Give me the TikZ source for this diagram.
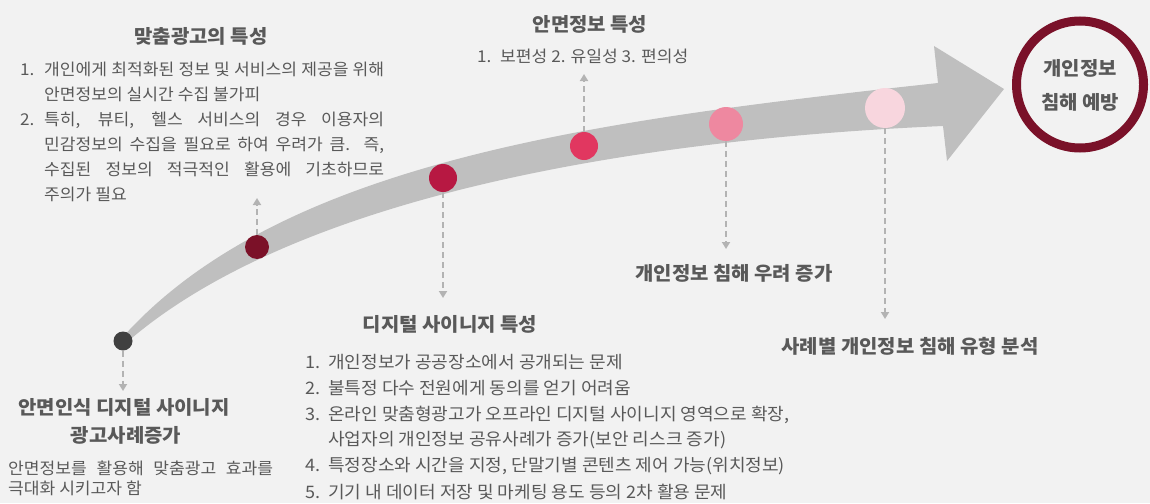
\documentclass[tikz,border=0pt]{standalone}
\usepackage{fontspec}
\setmainfont{Noto Sans CJK KR}[FakeStretch=1.05]
\usetikzlibrary{arrows.meta}
\definecolor{bg}{HTML}{F2F2F2}
\definecolor{band}{HTML}{BFBFBF}
\definecolor{txtc}{HTML}{595959}
\definecolor{dashc}{HTML}{B3B3B3}
\definecolor{c0}{HTML}{404040}
\definecolor{c1}{HTML}{7B1128}
\definecolor{c2}{HTML}{B71842}
\definecolor{c3}{HTML}{E13760}
\definecolor{c4}{HTML}{EE88A0}
\definecolor{c5}{HTML}{F8D6DE}
\definecolor{ring}{HTML}{7A1129}
\tikzset{
  txt/.style={inner sep=0pt, anchor=base west, text=txtc, font=\fontsize{16.3}{20}\selectfont},
  txtb/.style={inner sep=0pt, anchor=base west, text=txtc, font=\fontsize{17.2}{20}\selectfont},
  head/.style={inner sep=0pt, anchor=base, text=txtc, font=\fontsize{19}{22}\selectfont\bfseries},
  dot/.style={circle, inner sep=0pt, minimum size=#1, draw=none},
  dasharrow/.style={draw=dashc, line width=2.2pt, dash pattern=on 6pt off 4pt, -{Triangle[width=8pt,length=7pt]}}
}
\begin{document}
\begin{tikzpicture}[x=1pt,y=-1pt]
\fill[bg] (0,0) rectangle (1150,503);
\useasboundingbox (0,0) rectangle (1150,503);

% curved arrow band
\fill[band] (121,339) .. controls (280,160) and (600,120) .. (938,83)
  -- (934,46) -- (1004,89) -- (947,161) -- (943,126)
  .. controls (620,140) and (290,200) .. (126,343) -- cycle;

% dots
\node[dot=19pt, fill=c0] (d0) at (123,341) {};
\node[dot=24pt, fill=c1] (d1) at (257,247) {};
\node[dot=28pt, fill=c2] (d2) at (443,178) {};
\node[dot=28pt, fill=c3] (d3) at (584,146) {};
\node[dot=34pt, fill=c4] (d4) at (726,124) {};
\node[dot=40pt, fill=c5] (d5) at (885,108) {};

% arrow ends
\coordinate (e0) at (123,391);
\coordinate (e1) at (257,198);
\coordinate (e2) at (443,298);
\coordinate (e3) at (584,74);
\coordinate (e4) at (726,249);
\coordinate (e5) at (885,319);
\draw[dasharrow] (d0.south) -- (e0);
\draw[dasharrow] (d1.north) -- (e1);
\draw[dasharrow] (d2.south) -- (e2);
\draw[dasharrow] (d3.north) -- (e3);
\draw[dasharrow] (d4.south) -- (e4);
\draw[dasharrow] (d5.south) -- (e5);

% goal circle
\node[circle, draw=ring, line width=9pt, minimum size=127pt, inner sep=0pt] (goal) at (1080,84.5) {};
\node[head] (g1) at (1080,75.5) {개인정보};
\node[head] (g2) at (1080,109) {침해 예방};

% top-left block
\node[head] (h1) at (201,43.5) {맞춤광고의 특성};
\node[txt] (n1) at (20,75) {1.};
\node[txt] (l1) at (44,75) {\makebox[340pt][s]{개인에게 최적화된 정보 및 서비스의 제공을 위해}};
\node[txt] (l2) at (44,100) {안면정보의 실시간 수집 불가피};
\node[txt] (n2) at (20,125) {2.};
\node[txt] (l3) at (44,125) {\makebox[340pt][s]{특히, 뷰티, 헬스 서비스의 경우 이용자의}};
\node[txt] (l4) at (44,150) {\makebox[340pt][s]{민감정보의 수집을 필요로 하여 우려가 큼. 즉,}};
\node[txt] (l5) at (44,175) {\makebox[340pt][s]{수집된 정보의 적극적인 활용에 기초하므로}};
\node[txt] (l6) at (44,200) {주의가 필요};

% top-middle block
\node[head] (h2) at (590,32) {안면정보 특성};
\node[txt] (m1) at (477,63) {1.};
\node[txt] (m2) at (500,63) {보편성 2. 유일성 3. 편의성};

% bottom-left block
\node[head] (h3) at (124,414) {안면인식 디지털 사이니지};
\node[head] (h4) at (126,442) {광고사례증가};
\node[txt] (b1) at (8,474) {\makebox[265pt][s]{안면정보를 활용해 맞춤광고 효과를}};
\node[txt] (b2) at (8,494) {극대화 시키고자 함};

% bottom-middle block
\node[head] (h5) at (450,331) {디지털 사이니지 특성};
\node[txtb] (k1) at (305,368) {1.};
\node[txtb] (s1) at (328,368) {개인정보가 공공장소에서 공개되는 문제};
\node[txtb] (k2) at (305,394) {2.};
\node[txtb] (s2) at (328,394) {불특정 다수 전원에게 동의를 얻기 어려움};
\node[txtb] (k3) at (305,420) {3.};
\node[txtb] (s3) at (328,420) {온라인 맞춤형광고가 오프라인 디지털 사이니지 영역으로 확장,};
\node[txtb] (s3b) at (328,445) {사업자의 개인정보 공유사례가 증가(보안 리스크 증가)};
\node[txtb] (k4) at (305,471) {4.};
\node[txtb] (s4) at (328,471) {특정장소와 시간을 지정, 단말기별 콘텐츠 제어 가능(위치정보)};
\node[txtb] (k5) at (305,498) {5.};
\node[txtb] (s5) at (328,498) {기기 내 데이터 저장 및 마케팅 용도 등의 2차 활용 문제};

% right labels
\node[head] (h6) at (734,280.5) {개인정보 침해 우려 증가};
\node[head] (h7) at (910,353) {사례별 개인정보 침해 유형 분석};
\end{tikzpicture}
\end{document}
